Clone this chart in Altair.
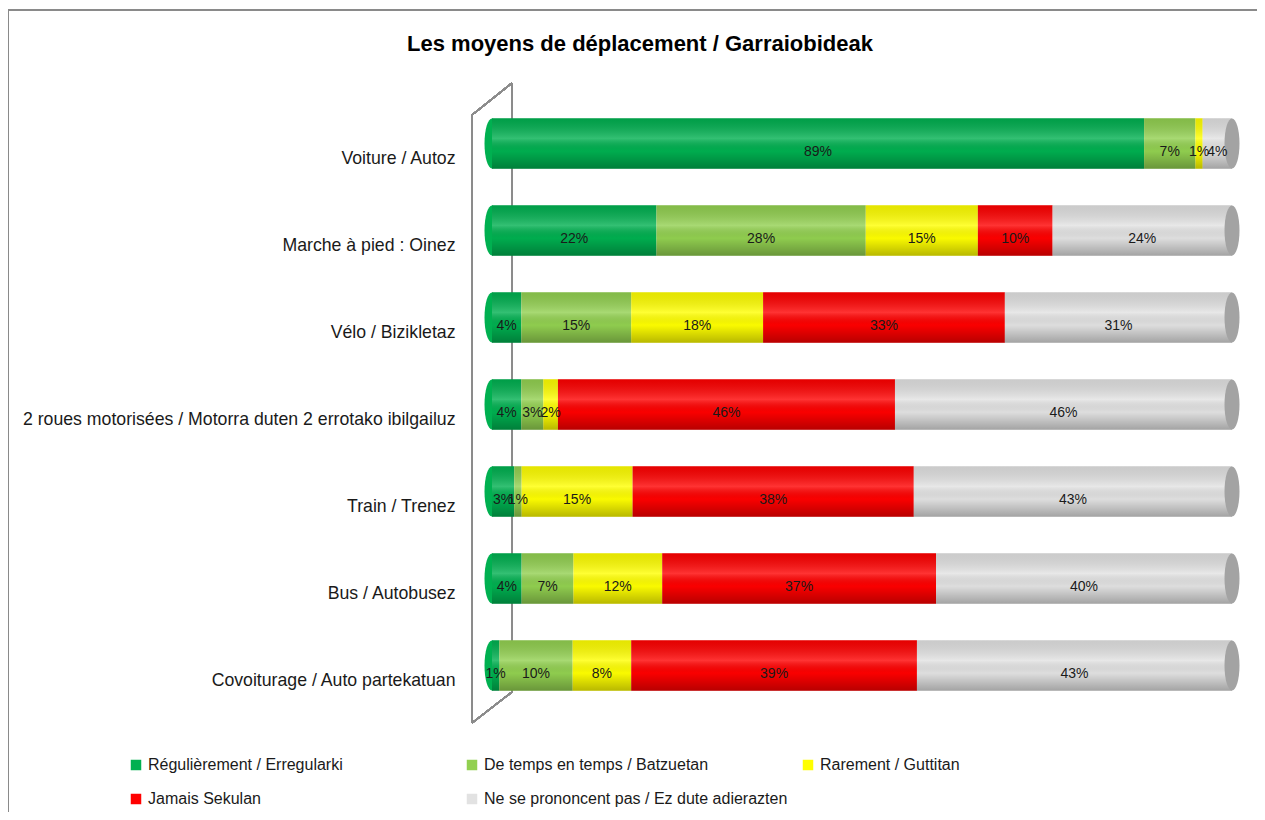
import altair as alt
import pandas as pd

categories = [
    "Voiture / Autoz",
    "Marche à pied : Oinez",
    "Vélo / Bizikletaz",
    "2 roues motorisées / Motorra duten 2 errotako ibilgailuz",
    "Train / Trenez",
    "Bus / Autobusez",
    "Covoiturage / Auto partekatuan",
]
series = [
    "Régulièrement / Erregularki",
    "De temps en temps / Batzuetan",
    "Rarement / Guttitan",
    "Jamais Sekulan",
    "Ne se prononcent pas / Ez dute adierazten",
]
colors = ["#00B050", "#92D050", "#FFFF00", "#FF0000", "#E2E2E2"]

regulierement = [89, 22, 4, 4, 3, 4, 1]
de_temps = [7, 28, 15, 3, 1, 7, 10]
rarement = [1, 15, 18, 2, 15, 12, 8]
jamais = [0, 10, 33, 46, 38, 37, 39]
nsp = [4, 24, 31, 46, 43, 40, 43]
values = [regulierement, de_temps, rarement, jamais, nsp]

rows = []
for i, c in enumerate(categories):
    for j, s in enumerate(series):
        v = values[j][i]
        rows.append({"cat": c, "serie": s, "order": j, "value": v, "label": f"{v}%"})
df = pd.DataFrame(rows)

FONT = "Liberation Sans"

base = (
    alt.Chart(df)
    .transform_stack(
        stack="value",
        groupby=["cat"],
        as_=["x0", "x1"],
        sort=[alt.SortField("order", order="ascending")],
        offset="normalize",
    )
    .transform_calculate(mid="(datum.x0 + datum.x1) / 2")
)

xscale = alt.Scale(domain=[0, 1], nice=False, zero=True)
yenc = alt.Y(
    "cat:N",
    sort=categories,
    scale=alt.Scale(paddingInner=0.42, paddingOuter=0.21),
    axis=alt.Axis(
        title=None,
        domain=False,
        ticks=False,
        grid=False,
        labelPadding=37,
        labelOffset=15,
        labelFontSize=17.7,
        labelFont=FONT,
        labelColor="#1a1a1a",
        labelLimit=700,
    ),
)
color_scale = alt.Scale(domain=series, range=colors)

# decorations: outer frame and 3D wall
frame_col = "#8a8a8a"
wall_col = "#8c8c8c"
deco = [
    alt.Chart(df).mark_rule(color=frame_col, strokeWidth=2).encode(
        x=alt.value(-484), x2=alt.value(780), y=alt.value(-90)),
    alt.Chart(df).mark_rule(color=frame_col, strokeWidth=2).encode(
        x=alt.value(-484), y=alt.value(-90), y2=alt.value(720)),
    alt.Chart(df).mark_rule(color=wall_col, strokeWidth=1.3).encode(
        x=alt.value(-20), y=alt.value(15), y2=alt.value(623)),
    alt.Chart(df).mark_rule(color=wall_col, strokeWidth=1.3).encode(
        x=alt.value(20), y=alt.value(-17), y2=alt.value(592)),
    alt.Chart(df).mark_rule(color=wall_col, strokeWidth=1.3).encode(
        x=alt.value(-20), x2=alt.value(20), y=alt.value(15), y2=alt.value(-17)),
    alt.Chart(df).mark_rule(color=wall_col, strokeWidth=1.3).encode(
        x=alt.value(-20), x2=alt.value(20), y=alt.value(623), y2=alt.value(592)),
]

ellipse = "M0,-1A0.3,1 0 1,1 0,1A0.3,1 0 1,1 0,-1Z"

legend = alt.Legend(
    title=None,
    orient="none",
    legendX=-364,
    legendY=657,
    direction="horizontal",
    columns=3,
    gridAlign="all",
    columnPadding=12,
    rowPadding=18,
    symbolType="square",
    symbolSize=110,
    symbolStrokeWidth=0,
    symbolOpacity=1,
    labelFontSize=16,
    labelFont=FONT,
    labelColor="#1a1a1a",
    labelLimit=500,
    padding=0,
)

left_caps = base.transform_filter("datum.order == 0").mark_point(
    shape=ellipse, size=2500, filled=True, opacity=1, strokeWidth=0
).encode(
    x=alt.X("x0:Q", scale=xscale, axis=None),
    y=yenc,
    color=alt.Color("serie:N", scale=color_scale, sort=series, legend=legend),
)

bars = base.mark_bar().encode(
    x=alt.X("x0:Q", scale=xscale, axis=None),
    x2="x1:Q",
    y=yenc,
    color=alt.Color("serie:N", scale=color_scale, sort=series, legend=legend),
)

shade = base.mark_bar(
    fill=alt.Gradient(
        gradient="linear",
        stops=[
            alt.GradientStop(color="rgba(0,0,0,0.10)", offset=0),
            alt.GradientStop(color="rgba(255,255,255,0.2)", offset=0.4),
            alt.GradientStop(color="rgba(0,0,0,0.02)", offset=0.65),
            alt.GradientStop(color="rgba(0,0,0,0.28)", offset=1),
        ],
        x1=0, x2=0, y1=0, y2=1,
    )
).encode(
    x=alt.X("x0:Q", scale=xscale, axis=None),
    x2="x1:Q",
    y=yenc,
)

right_caps = base.transform_filter("datum.order == 4").mark_point(
    shape=ellipse, size=2500, filled=True, opacity=1, strokeWidth=0, color="#A3A3A3"
).encode(
    x=alt.X("x1:Q", scale=xscale, axis=None),
    y=yenc,
)

texts = base.transform_filter("datum.value > 0").mark_text(
    fontSize=14, font=FONT, color="#1a1a1a", dy=8
).encode(
    x=alt.X("mid:Q", scale=xscale, axis=None),
    y=yenc,
    text="label:N",
)

chart = (
    alt.layer(*deco, left_caps, bars, shade, right_caps, texts)
    .properties(
        width=740,
        height=609,
        autosize=alt.AutoSizeParams(type="none"),
        padding={"left": 484, "top": 92, "right": 25, "bottom": 103},
        title=alt.TitleParams(
            "Les moyens de déplacement / Garraiobideak",
            fontSize=22,
            font=FONT,
            fontWeight="bold",
            color="#000000",
            anchor="middle",
            dx=-222,
            offset=-47,
        ),
    )
    .configure_view(stroke=None)
)

chart.save("out.html", embed_options={"renderer": "svg", "actions": False})
